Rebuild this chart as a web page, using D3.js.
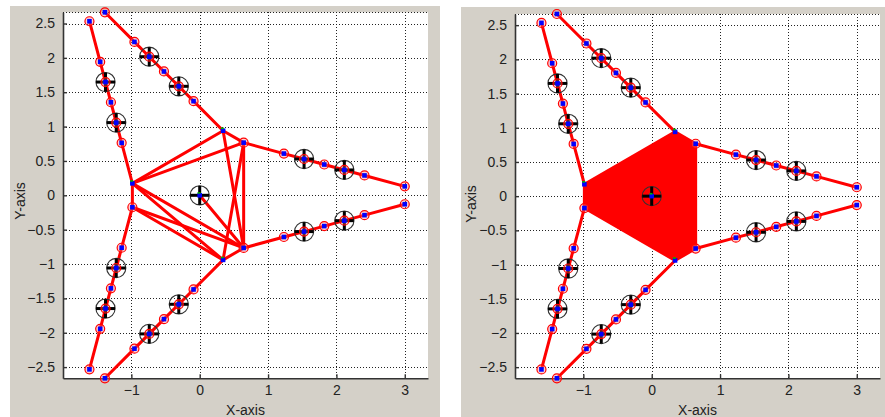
<!DOCTYPE html>
<html><head><meta charset="utf-8">
<script src="https://cdn.jsdelivr.net/npm/d3@7"></script>
<style>
html,body{margin:0;padding:0;background:#fff;}
svg{display:block;font-family:"Liberation Sans",Arial,sans-serif;}
</style></head>
<body>
<svg id="chart" width="885" height="417"></svg>
<script>
// ---- data ----
const xTicks = [-1, 0, 1, 2, 3];
const yTicks = [-2.5, -2, -1.5, -1, -0.5, 0, 0.5, 1, 1.5, 2, 2.5];
const xDomain = [-2, 3.34];
const yDomain = [-2.663, 2.663];

// hexagon vertices (order: 50°, 70°, 170°, 190°, 290°, 310°)
const hexX = [0.643, 0.342, -0.985, -0.985, 0.342, 0.643];
const hexY = [0.766, 0.940, 0.174, -0.174, -0.940, -0.766];
const ringVerts = [0, 3, 5];
const greenVerts = [1, 2, 4];

// mesh edges drawn in the left panel (vertex index pairs)
const meshEdges = [[0,1],[1,2],[2,3],[3,4],[4,5],[5,0],
                   [2,0],[1,5],[0,4],[2,5],[2,4],[3,5]];
const centerX = 0, centerY = 0;
const centerLinkVert = 5;

// six arms
const arm50X  = [0.643, 1.232, 1.527, 1.822, 2.116, 2.411, 3.000];
const arm50Y  = [0.766, 0.607, 0.528, 0.448, 0.369, 0.289, 0.130];
const arm310X = [0.643, 1.232, 1.527, 1.822, 2.116, 2.411, 3.000];
const arm310Y = [-0.766, -0.607, -0.528, -0.448, -0.369, -0.289, -0.130];
const arm170X = [-0.985, -1.142, -1.221, -1.299, -1.378, -1.456, -1.613];
const arm170Y = [0.174, 0.763, 1.058, 1.354, 1.648, 1.943, 2.533];
const arm190X = [-0.985, -1.142, -1.221, -1.299, -1.378, -1.456, -1.613];
const arm190Y = [-0.174, -0.763, -1.058, -1.354, -1.648, -1.943, -2.533];
const arm70X  = [0.342, -0.090, -0.306, -0.523, -0.738, -0.955, -1.387];
const arm70Y  = [0.940, 1.370, 1.586, 1.802, 2.017, 2.232, 2.663];
const arm290X = [0.342, -0.090, -0.306, -0.523, -0.738, -0.955, -1.387];
const arm290Y = [-0.940, -1.370, -1.586, -1.802, -2.017, -2.232, -2.663];
const bigIdx = [2, 4];

const arms = [[arm50X,arm50Y],[arm310X,arm310Y],[arm170X,arm170Y],
              [arm190X,arm190Y],[arm70X,arm70Y],[arm290X,arm290Y]];

// ---- drawing ----
const svg = d3.select("#chart");
const GRAY = "#d4d0c8";

const panels = [
  {bg:[10,6,430,411], xr:[63,428], yr:[378.3,12.3], filled:false, ylab:[20,201], xlabY:410},
  {bg:[461,7,424,410], xr:[515,880], yr:[378.3,14], filled:true, ylab:[471,204], xlabY:410}
];

panels.forEach(p => {
  svg.append("rect").attr("x",p.bg[0]).attr("y",p.bg[1]).attr("width",p.bg[2]).attr("height",p.bg[3]).attr("fill",GRAY);
  const x = d3.scaleLinear().domain(xDomain).range(p.xr);
  const y = d3.scaleLinear().domain(yDomain).range(p.yr);
  const g = svg.append("g");
  g.append("rect").attr("x",p.xr[0]).attr("y",p.yr[1]).attr("width",p.xr[1]-p.xr[0]).attr("height",p.yr[0]-p.yr[1]).attr("fill","#fff");

  // grid
  const grid = g.append("g").attr("stroke","#222").attr("stroke-width",1).attr("stroke-dasharray","1,2").attr("shape-rendering","crispEdges");
  xTicks.forEach(t => grid.append("line").attr("x1",Math.round(x(t))+0.5).attr("x2",Math.round(x(t))+0.5).attr("y1",p.yr[1]).attr("y2",p.yr[0]));
  yTicks.forEach(t => grid.append("line").attr("y1",Math.round(y(t))+0.5).attr("y2",Math.round(y(t))+0.5).attr("x1",p.xr[0]).attr("x2",p.xr[1]));
  grid.append("line").attr("y1",Math.round(p.yr[1])+0.5).attr("y2",Math.round(p.yr[1])+0.5).attr("x1",p.xr[0]).attr("x2",p.xr[1]);

  // axes
  const xAxis = d3.axisBottom(x).tickValues(xTicks).tickSizeInner(-4).tickSizeOuter(0).tickPadding(10).tickFormat(d3.format("~g"));
  const yAxis = d3.axisLeft(y).tickValues(yTicks).tickSizeInner(-4).tickSizeOuter(0).tickPadding(8).tickFormat(d3.format("~g"));
  const ax = g.append("g").attr("transform",`translate(0,${p.yr[0]})`).call(xAxis);
  const ay = g.append("g").attr("transform",`translate(${p.xr[0]},0)`).call(yAxis);
  [ax,ay].forEach(a => {
    a.select(".domain").attr("stroke","#333").attr("stroke-width",1.6);
    a.selectAll(".tick line").attr("stroke","#333").attr("stroke-width",1.4);
    a.selectAll("text").attr("font-size",14).attr("fill","#222").attr("font-family","Liberation Sans, Arial, sans-serif");
  });
  ax.selectAll("text").attr("dy","0.5em");

  g.append("text").attr("x",(p.xr[0]+p.xr[1])/2).attr("y",p.xlabY+5).attr("text-anchor","middle").attr("font-size",14).attr("fill","#222").text("X-axis");
  g.append("text").attr("transform",`translate(${p.ylab[0]+5},${p.ylab[1]}) rotate(-90)`).attr("text-anchor","middle").attr("font-size",14).attr("fill","#222").text("Y-axis");

  const plot = g.append("g");
  const RED = "#ff0000";
  if (p.filled) {
    plot.append("polygon").attr("points", hexX.map((v,i)=>`${x(v)},${y(hexY[i])}`).join(" "))
      .attr("fill",RED).attr("stroke",RED).attr("stroke-width",3).attr("stroke-linejoin","round");
  } else {
    meshEdges.forEach(e => plot.append("line")
      .attr("x1",x(hexX[e[0]])).attr("y1",y(hexY[e[0]])).attr("x2",x(hexX[e[1]])).attr("y2",y(hexY[e[1]]))
      .attr("stroke",RED).attr("stroke-width",3).attr("stroke-linecap","round"));
    plot.append("line").attr("x1",x(centerX)).attr("y1",y(centerY)).attr("x2",x(hexX[centerLinkVert])).attr("y2",y(hexY[centerLinkVert]))
      .attr("stroke",RED).attr("stroke-width",3).attr("stroke-linecap","round");
  }
  const line = d3.line().x(d=>x(d[0])).y(d=>y(d[1]));
  arms.forEach(([ax_,ay_]) => {
    plot.append("path").attr("d", line(ax_.map((v,i)=>[v,ay_[i]]))).attr("fill","none")
      .attr("stroke",RED).attr("stroke-width",3).attr("stroke-linejoin","round").attr("stroke-linecap","round");
  });

  function bigMarker(cx, cy) {
    plot.append("circle").attr("cx",cx).attr("cy",cy).attr("r",9.6).attr("fill","none").attr("stroke","#333").attr("stroke-width",1.1);
    plot.append("rect").attr("x",cx-9.5).attr("y",cy-1.5).attr("width",19).attr("height",3).attr("fill","#000");
    plot.append("rect").attr("x",cx-1.5).attr("y",cy-9.5).attr("width",3).attr("height",19).attr("fill","#000");
  }
  function ring(cx, cy) {
    plot.append("circle").attr("cx",cx).attr("cy",cy).attr("r",4.5).attr("fill","rgba(255,120,120,0.35)").attr("stroke",RED).attr("stroke-width",1.2);
  }
  function blue(cx, cy) {
    plot.append("rect").attr("x",cx-2.3).attr("y",cy-2.3).attr("width",4.6).attr("height",4.6).attr("fill","#0000ff");
  }
  function green(cx, cy) {
    plot.append("rect").attr("x",cx-2.2).attr("y",cy-3.2).attr("width",3).attr("height",1.6).attr("fill","#00b000");
  }

  // arm markers
  arms.forEach(([ax_,ay_]) => {
    ax_.forEach((v,i) => {
      if (i === 0) return;
      const cx = x(v), cy = y(ay_[i]);
      if (bigIdx.includes(i)) bigMarker(cx, cy);
      ring(cx, cy); blue(cx, cy);
    });
  });
  // vertex markers
  hexX.forEach((v,i) => {
    const cx = x(v), cy = y(hexY[i]);
    if (ringVerts.includes(i)) ring(cx, cy);
    blue(cx, cy);
    if (greenVerts.includes(i)) green(cx, cy);
  });
  // centre marker
  bigMarker(x(centerX), y(centerY));
  blue(x(centerX), y(centerY));
  green(x(centerX), y(centerY));
});
</script>
</body></html>
